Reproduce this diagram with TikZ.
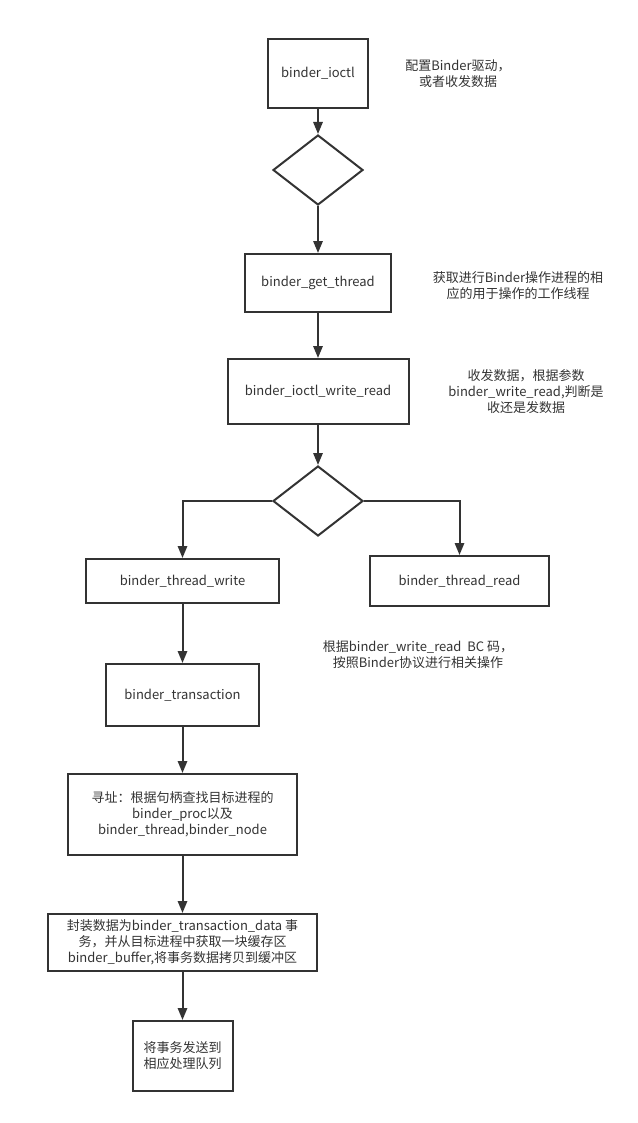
\documentclass[tikz,border=0pt]{standalone}
\usepackage{fontspec}
\setmainfont{Noto Sans CJK SC}
\usepackage{xcolor}
\usepackage{tikz}
\usetikzlibrary{arrows.meta,shapes.geometric}
\definecolor{ink}{HTML}{333333}

\begin{document}
\begin{tikzpicture}[x=0.75pt, y=-0.75pt, >={Triangle[length=9pt,width=7pt]},
    every node/.style={font=\fontsize{9.75}{12}\selectfont, text=ink},
    block/.style={rectangle, draw=ink, line width=1.5pt, inner sep=0pt, align=center},
    choice/.style={diamond, draw=ink, line width=1.5pt, inner sep=0pt, minimum width=67.5pt, minimum height=52.5pt},
    note/.style={align=center, inner sep=0pt},
    flow/.style={->, draw=ink, line width=1.5pt}]
    \useasboundingbox (0,0) rectangle (638,1123);

    \node[block, minimum width=75pt, minimum height=51.75pt] (ioctl) at (318,73.5) {binder\_ioctl};
    \node[choice] (d1) at (318,170) {};
    \node[block, minimum width=109.5pt, minimum height=43.5pt] (getth) at (318,283) {binder\_get\_thread};
    \node[block, minimum width=135.75pt, minimum height=48.75pt] (wr) at (318,391.5) {binder\_ioctl\_write\_read};
    \node[choice] (d2) at (318,501) {};

    \node[block, minimum width=144.75pt, minimum height=33pt] (twrite) at (182.5,581) {binder\_thread\_write};
    \node[block, minimum width=134.25pt, minimum height=37.5pt] (tread) at (459.5,581) {binder\_thread\_read};
    \node[block, minimum width=114.75pt, minimum height=46.5pt] (trans) at (182.5,695) {binder\_transaction};
    \node[block, minimum width=171.75pt, minimum height=60.75pt] (lookup) at (182.5,814.5)
        {寻址：根据句柄查找目标进程的\\binder\_proc以及\\binder\_thread,binder\_node};
    \node[block, minimum width=201.75pt, minimum height=42.75pt] (pack) at (182.5,942.5)
        {封装数据为binder\_transaction\_data 事\\务，并从目标进程中获取一块缓存区\\binder\_buffer,将事务数据拷贝到缓冲区};
    \node[block, minimum width=75pt, minimum height=52.5pt] (queue) at (182.5,1056) {将事务发送到\\相应处理队列};

    \foreach \a/\b in {ioctl/d1, d1/getth, getth/wr, wr/d2, twrite/trans, trans/lookup, lookup/pack, pack/queue}
        \draw[flow] (\a) -- (\b);
    \draw[flow] (d2.west) -| (twrite.north);
    \draw[flow] (d2.east) -| (tread.north);

    \node[note] (n1) at (458,74) {配置Binder驱动，\\ 或者收发数据};
    \node[note] (n2) at (518,286) {获取进行Binder操作进程的相\\应的用于操作的工作线程};
    \node[note] (n3) at (526,392) {收发数据，根据参数\\binder\_write\_read,判断是\\收还是发数据};
    \node[note] (n4) at (418,655) {根据binder\_write\_read\ \ BC 码，\\按照Binder协议进行相关操作};
\end{tikzpicture}
\end{document}
